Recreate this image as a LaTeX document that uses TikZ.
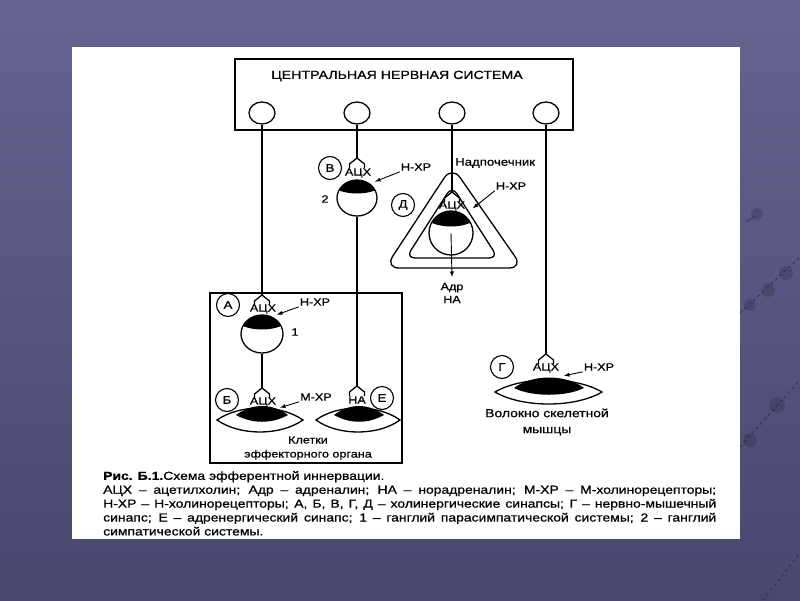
\documentclass[tikz,border=0pt]{standalone}
\usepackage{fontspec}
\setmainfont{Liberation Sans}
\newfontfamily\widefont[FakeStretch=1.2,FakeBold=0.8]{Liberation Sans}
\usetikzlibrary{shapes.geometric,arrows}

% nerve ending over a synapse
\newcommand{\synroof}[1]{\draw[nerve] (#1) ++(-7.5,10) -- ++(0,-4) -- (#1) -- ++(7.5,6) -- ++(0,4);}

\definecolor{slidetop}{RGB}{101,100,145}
\definecolor{slidebot}{RGB}{72,71,110}
\definecolor{decor}{RGB}{35,35,60}

\begin{document}
\begin{tikzpicture}[x=1pt,y=-1pt,
    nerve/.style={line width=1.3pt},
    soma/.style={ellipse,draw,line width=1.3pt,inner sep=0pt},
    letter/.style={circle,draw,line width=1.1pt,minimum size=23pt,inner sep=0pt,font=\widefont\fontsize{11}{11}\selectfont},
    lbl/.style={inner sep=1pt,font=\widefont\fontsize{10.5}{11}\selectfont},
    pointer/.style={-latex,line width=0.9pt,shorten >=1pt}]
        \useasboundingbox (0,0) rectangle (800,600);

        % Slide background
        \shade[top color=slidetop,bottom color=slidebot] (0,0) rectangle (800,600);
        \draw[decor,opacity=0.8,line width=0.7pt,dashed] (740,313) -- (800,257);
        \draw[decor,opacity=0.8,line width=0.7pt,dashed] (740,447) -- (800,380);
        \draw[decor,opacity=0.8,line width=0.7pt,dashed] (763,600) -- (800,553);
        \draw[decor,opacity=0.8,line width=0.7pt] (746,222) -- (755,216);
        \fill[decor,opacity=0.25] (786,273) circle (7) (768,290) circle (7) (750,305) circle (6) (777,405) circle (8) (750,440) circle (7) (757,214) circle (6);
        \fill[white] (72,47) rectangle (740,539);

        % Central nervous system
        \node[draw,line width=1.3pt,minimum width=338pt,minimum height=71pt,inner sep=0pt] (cns) at (404,94.5) {};
        \node[lbl,font=\widefont\fontsize{11.8}{12}\selectfont] (cnstitle) at (397,76) {ЦЕНТРАЛЬНАЯ НЕРВНАЯ СИСТЕМА};
        \node[soma,minimum width=26pt,minimum height=22pt] (n1) at (262,113) {};
        \node[soma,minimum width=26pt,minimum height=22pt] (n2) at (357,113) {};
        \node[soma,minimum width=26pt,minimum height=22pt] (n3) at (452,113) {};
        \node[soma,minimum width=26pt,minimum height=22pt] (n4) at (546,113) {};

        % Synapse endings
        \coordinate (tA) at (262,295);
        \coordinate (tB) at (262,388);
        \coordinate (tV) at (357,158);
        \coordinate (tD) at (452,192);
        \coordinate (tE) at (357,386);
        \coordinate (tG) at (546,354);

        % Sympathetic ganglion 2
        \begin{scope}
            \clip (357,198) ellipse (20 and 18);
            \fill (330,175) -- (330,186) .. controls (345,196) and (369,196) .. (384,186) -- (384,175) -- cycle;
        \end{scope}
        \node[soma,minimum width=40pt,minimum height=36pt] (g2) at (357,198) {};
        \synroof{tV}
        \node[lbl] (achV) at (358,173) {АЦХ};
        \node[letter] (synV) at (330,168) {В};
        \node[lbl] (hxrV) at (416,167) {Н-ХР};
        \coordinate (capV) at (374,182);
        \draw[pointer] (hxrV.south west) -- (capV);
        \node[lbl] (num2) at (325,199) {2};

        % Adrenal gland
        \draw[line width=1.3pt,rounded corners=14pt] (452,166) -- (385,268) -- (523,268) -- cycle;
        \draw[line width=1.3pt,rounded corners=9pt] (452,186) -- (406,258) -- (498,258) -- cycle;
        \begin{scope}
            \clip (451,233) ellipse (22 and 22);
            \fill (425,205) -- (425,219) .. controls (438,229) and (464,229) .. (477,219) -- (477,205) -- cycle;
        \end{scope}
        \node[soma,minimum width=44pt,minimum height=44pt] (ad) at (451,233) {};
        \synroof{tD}
        \node[lbl] (achD) at (452,206) {АЦХ};
        \node[letter] (synD) at (403,205) {Д};
        \node[lbl,anchor=west,font=\widefont\fontsize{11}{11}\selectfont] (adrenal) at (454,163) {Надпочечник};
        \node[lbl] (hxrD) at (511,186) {Н-ХР};
        \coordinate (capD) at (472,209);
        \draw[pointer] (hxrD.south west) -- (capD);
        \coordinate (adout) at (452,277);
        \draw[pointer,shorten >=0pt] (ad.center) -- (adout);
        \node[lbl,align=center,font=\widefont\fontsize{10.5}{13}\selectfont] (hormones) at (452,293) {Адр\\НА};

        % Effector organ
        \node[draw,line width=1.3pt,minimum width=192pt,minimum height=170pt,inner sep=0pt] (organ) at (306,378) {};
        \begin{scope}
            \clip (262,334) ellipse (21 and 19);
            \fill (235,310) -- (235,322) .. controls (250,332) and (274,332) .. (289,322) -- (289,310) -- cycle;
        \end{scope}
        \node[soma,minimum width=42pt,minimum height=38pt] (g1) at (262,334) {};
        \synroof{tA}
        \node[lbl] (achA) at (263,309) {АЦХ};
        \node[letter] (synA) at (228,305) {А};
        \node[lbl] (hxrA) at (315,302) {Н-ХР};
        \coordinate (capA) at (276,315);
        \draw[pointer] (hxrA.south west) -- (capA);
        \node[lbl] (num1) at (295,332) {1};

        \synroof{tB}
        \node[lbl] (achB) at (263,402) {АЦХ};
        \node[letter] (synB) at (227,400) {Б};
        \node[lbl] (mxrB) at (316,397) {М-ХР};
        \coordinate (capB) at (279,408);
        \draw[pointer] (mxrB.south west) -- (capB);
        \fill (236,415) .. controls (252,403) and (272,403) .. (288,415) .. controls (272,424) and (252,424) .. (236,415);
        \draw[line width=1.3pt] (217,420) .. controls (240,404) and (280,404) .. (303,420) .. controls (280,436) and (240,436) .. (217,420) -- cycle;

        \synroof{tE}
        \node[lbl] (naE) at (357,400) {НА};
        \node[letter] (synE) at (382,398) {Е};
        \fill (334,415) .. controls (350,403) and (368,403) .. (384,415) .. controls (368,424) and (350,424) .. (334,415);
        \draw[line width=1.3pt] (316,420) .. controls (338,404) and (378,404) .. (400,420) .. controls (378,436) and (338,436) .. (316,420) -- cycle;
        \node[lbl,align=center,font=\widefont\fontsize{10.5}{14}\selectfont] (organtext) at (308,448) {Клетки\\эффекторного органа};

        % Skeletal muscle
        \synroof{tG}
        \node[lbl] (achG) at (546,368) {АЦХ};
        \node[letter] (synG) at (502,367) {Г};
        \node[lbl] (hxrG) at (599,367) {Н-ХР};
        \coordinate (capG) at (563,376);
        \draw[pointer] (hxrG.south west) -- (capG);
        \fill (514,388) .. controls (532,374) and (566,374) .. (584,388) .. controls (566,397) and (532,397) .. (514,388);
        \draw[line width=1.3pt] (495,392) .. controls (522,376) and (575,376) .. (602,392) .. controls (575,408) and (522,408) .. (495,392) -- cycle;
        \node[lbl,align=center,font=\widefont\fontsize{11.6}{16}\selectfont] (muscletext) at (547,422) {Волокно скелетной\\мышцы};

        % Nerve fibres
        \draw[nerve] (n1) -- (tA);
        \draw[nerve] (n2) -- (tV);
        \draw[nerve] (n3) -- (tD);
        \draw[nerve] (n4) -- (tG);
        \draw[nerve] (g2) -- (tE);
        \draw[nerve] (g1) -- (tB);

        % Caption
        \node[anchor=north west,align=left,inner sep=0pt,font=\widefont\fontsize{11.6}{13.9}\selectfont] (caption) at (103,471) {%
            \textbf{Рис. Б.1.}Схема эфферентной иннервации.\\
            \makebox[613pt][s]{АЦХ – ацетилхолин; Адр – адреналин; НА – норадреналин; М-ХР – М-холинорецепторы;}\\
            \makebox[613pt][s]{Н-ХР – Н-холинорецепторы; А, Б, В, Г, Д – холинергические синапсы; Г – нервно-мышечный}\\
            \makebox[613pt][s]{синапс; Е – адренергический синапс; 1 – ганглий парасимпатической системы; 2 – ганглий}\\
            симпатической системы.};
    \end{tikzpicture}
\end{document}
